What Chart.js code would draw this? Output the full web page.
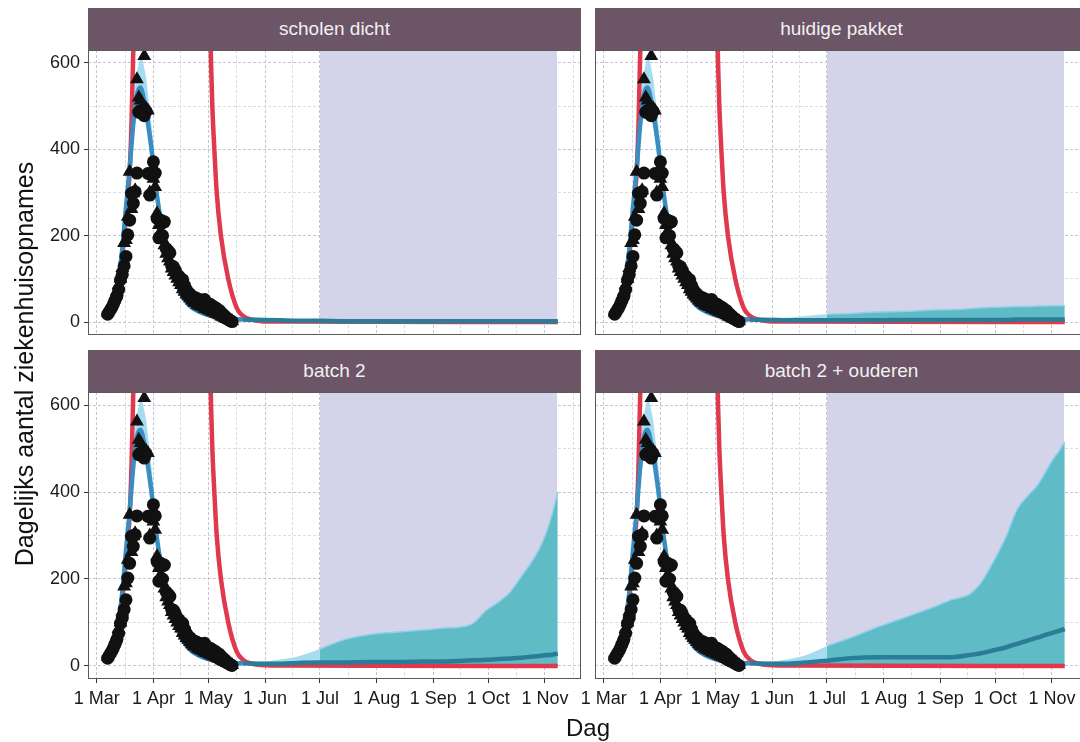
<!DOCTYPE html>
<html><head><meta charset="utf-8">
<script src="https://cdn.jsdelivr.net/npm/chart.js@4"></script>
<style>
html,body{margin:0;padding:0;background:#fff;overflow:hidden;width:1080px;height:742px;}
body{position:relative;font-family:"Liberation Sans",Arial,sans-serif;}
canvas{position:absolute;}
.strip{position:absolute;background:#6c5566;color:#f1f1f1;font-size:19px;text-align:center;white-space:nowrap;}
.ttl{position:absolute;color:#111;text-align:center;white-space:nowrap;}
</style></head><body>
<script>
// ---------- data ----------
const panelNames = ['scholen dicht', 'huidige pakket', 'batch 2', 'batch 2 + ouderen'];
const monthTickDays = [0, 31, 61, 92, 122, 153, 184, 214, 245];
const monthTickLabels = ['1 Mar', '1 Apr', '1 May', '1 Jun', '1 Jul', '1 Aug', '1 Sep', '1 Oct', '1 Nov'];
const minorTickDays = [15.5, 46, 76.5, 107, 137.5, 168.5, 199, 229.5, 260.5];
const yMajorTicks = [0, 200, 400, 600];
const yMinorTicks = [100, 300, 500];

// observed admissions (day 0 = 1 March)
const obsDays = [6,7,8,9,10,11,12,13,14,15,16,17,18,19,20,21,22,23,24,25,26,27,28,29,30,31,32,33,34,35,36,37,38,39,40,41,42,43,44,45,46,47,48,49,50,51,52,53,54,55,56,57,58,59,60,61,62,63,64,65,66,67,68,69,70,71,72,73,74];
const obsCircles = [18,25,32,40,50,60,75,98,110,130,152,202,236,298,275,302,345,486,490,482,478,488,344,294,340,371,345,240,195,236,200,232,170,165,160,130,128,120,110,106,100,98,85,75,68,65,60,57,56,54,52,50,48,52,45,42,41,38,35,33,29,27,22,18,14,10,6,3,1];
const obsTriangles = [22,30,38,48,58,70,85,100,125,183,190,244,348,262,298,305,562,520,513,498,616,495,490,300,350,332,313,252,225,210,192,178,158,148,140,124,116,108,100,92,86,76,70,64,60,55,50,46,44,40,38,36,34,31,30,28,26,24,22,20,18,16,13,11,9,7,5,3,2];

// model fit, common early part
const earlyDays = [5,8,10,12,14,16,18,20,21,22,23,24,25,26,27,28,30,31,32,34,36,38,40,42,44,46,48,50,52,55,60,65,70,75,80,90];
const earlyMean = [15,25,37,100,170,265,355,460,497,525,540,543,532,512,495,462,400,358,322,262,210,170,136,108,86,67,53,42,34,26,17,12,9,7,6,5];
const earlyLow  = [12,20,30,85,150,240,325,420,455,480,492,495,485,468,452,420,362,325,290,235,188,152,120,95,75,58,45,35,28,21,13,9,6,5,4,3];
const earlyHigh = [18,30,45,118,195,295,390,505,545,578,598,612,606,588,566,530,455,405,362,292,235,190,152,122,98,77,62,50,41,32,22,16,13,11,10,10];

// scenario projections, late part
const lateDays = [100,110,122,135,150,165,180,190,200,206,213,220,226,232,237,242,246,249,252];
const meanScholen  = [4,3,3,2,2,2,2,2,2,2,2,2,2,2,2,2,2,2,2];
const lowScholen   = [2,1,1,1,0,0,0,0,0,0,0,0,0,0,0,0,0,0,0];
const highScholen  = [9,7,6,5,5,5,5,5,5,5,5,5,5,5,5,5,5,5,5];
const meanHuidig   = [4,4,4,4,4,5,5,5,5,5,5,5,6,6,6,6,6,6,6];
const lowHuidig    = [2,1,1,1,1,1,1,1,1,1,1,1,1,1,1,1,1,1,1];
const highHuidig   = [10,14,18,20,23,25,28,29,31,33,34,35,36,36,37,37,38,38,38];
const meanBatch2   = [5,7,8,8,9,9,10,10,12,13,14,16,17,19,21,23,25,26,28];
const lowBatch2    = [2,1,1,1,1,1,1,1,1,1,1,1,1,1,1,1,1,1,1];
const highBatch2   = [15,22,39,60,73,78,83,87,90,99,128,148,170,205,235,270,310,350,400];
const meanOuderen  = [5,8,12,18,20,20,20,20,25,29,36,43,51,59,65,72,77,81,85];
const lowOuderen   = [2,1,1,1,1,1,1,1,1,1,1,1,1,1,1,1,1,1,1];
const highOuderen  = [15,24,46,65,90,112,135,152,165,190,240,298,360,392,415,450,478,495,515];

// unmitigated curve (red)
const redDays   = [9,10,12,14,16,17,18,19,20,21,22,25,30,40,50,58,61,62,62.5,63.2,64.3,65.6,67.9,71.9,76.5,80,85,90,100,252];
const redValues = [30,34,90,155,245,290,345,455,630,860,1150,2000,3500,5000,3500,1500,800,700,600,500,400,300,200,100,33,14,5,2,1,0];

// shaded projection period
const shadeDays = [122, 251.6];
const shadeTop  = [630, 630];

const scenarioMean = [meanScholen, meanHuidig, meanBatch2, meanOuderen];
const scenarioLow  = [lowScholen, lowHuidig, lowBatch2, lowOuderen];
const scenarioHigh = [highScholen, highHuidig, highBatch2, highOuderen];

// ---------- layout ----------
const PLOT_W = 493;
const geo = [
  {plotL: 88,  plotT: 50,  plotH: 285, stripT: 8,   leftCol: true,  bottomRow: false},
  {plotL: 595, plotT: 50,  plotH: 285, stripT: 8,   leftCol: false, bottomRow: false},
  {plotL: 88,  plotT: 392, plotH: 287, stripT: 350, leftCol: true,  bottomRow: true},
  {plotL: 595, plotT: 392, plotH: 287, stripT: 350, leftCol: false, bottomRow: true}
];
const Y_AXIS_W = 60, Y_AXIS_W_R = 30, X_AXIS_H = 45;
const FONT = '"Liberation Sans", Arial, sans-serif';
Chart.defaults.font.family = FONT;

const pts = (xs, ys) => xs.map((x, i) => ({x: x, y: ys[i]}));

const borderPlugin = {
  id: 'panelBorder',
  afterDatasetsDraw(chart) {
    const {ctx, chartArea: a} = chart;
    ctx.save();
    ctx.strokeStyle = '#5a5a5a';
    ctx.lineWidth = 1;
    ctx.strokeRect(a.left + 0.5, a.top + 0.5, a.right - a.left - 1, a.bottom - a.top - 1);
    ctx.restore();
  }
};

panelNames.forEach((name, p) => {
  const g = geo[p];
  const strip = document.createElement('div');
  strip.className = 'strip';
  strip.style.left = g.plotL + 'px';
  strip.style.top = g.stripT + 'px';
  strip.style.width = PLOT_W + 'px';
  strip.style.height = (g.plotT - g.stripT) + 'px';
  strip.style.lineHeight = (g.plotT - g.stripT) + 'px';
  strip.textContent = name;
  document.body.appendChild(strip);

  const yw = g.leftCol ? Y_AXIS_W : Y_AXIS_W_R;
  const cv = document.createElement('canvas');
  const cw = PLOT_W + yw;
  const ch = g.plotH + (g.bottomRow ? X_AXIS_H : 0);
  cv.width = cw; cv.height = ch;
  cv.style.width = cw + 'px'; cv.style.height = ch + 'px';
  cv.style.left = (g.plotL - yw) + 'px';
  cv.style.top = g.plotT + 'px';
  document.body.appendChild(cv);

  const days = earlyDays.concat(lateDays);
  const mean = earlyMean.concat(scenarioMean[p]);
  const low = earlyLow.concat(scenarioLow[p]);
  const high = earlyHigh.concat(scenarioHigh[p]);
  const idxE = days.map((d, i) => d <= 122 ? i : -1).filter(i => i >= 0);
  const idxL = days.map((d, i) => d >= 122 ? i : -1).filter(i => i >= 0);
  const sub = (arr, idx) => idx.map(i => arr[i]);

  const base = {pointRadius: 0, clip: 0, cubicInterpolationMode: 'monotone'};
  const datasets = [
    Object.assign({}, base, {data: pts(shadeDays, shadeTop), borderWidth: 0, backgroundColor: '#d3d3e9', fill: 'origin', order: 6}),
    Object.assign({}, base, {data: pts(sub(days, idxE), sub(low, idxE)), borderWidth: 0, fill: false, order: 5}),
    Object.assign({}, base, {data: pts(sub(days, idxE), sub(high, idxE)), borderWidth: 0, backgroundColor: '#a6dcef', fill: {target: 1}, order: 5}),
    Object.assign({}, base, {data: pts(sub(days, idxL), sub(low, idxL)), borderWidth: 0, fill: false, order: 5}),
    Object.assign({}, base, {data: pts(sub(days, idxL), sub(high, idxL)), borderWidth: 1.5, borderColor: '#8fd0ea', backgroundColor: '#5fbcc6', fill: {target: 3}, order: 5}),
    Object.assign({}, base, {data: pts(redDays, redValues), borderWidth: 4.5, borderColor: '#e0384d', fill: false, order: 3}),
    Object.assign({}, base, {data: pts(days, mean), borderWidth: 4.5, borderColor: '#3a8dc1', fill: false, order: 2,
      segment: {borderColor: c => c.p0.parsed.x >= 80 ? '#2a7c97' : '#3a8dc1'}}),
    {data: pts(obsDays, obsCircles), showLine: false, pointStyle: 'circle', pointRadius: 6.5, pointBackgroundColor: '#111', pointBorderColor: '#111', pointBorderWidth: 0, clip: 0, order: 1},
    {data: pts(obsDays, obsTriangles), showLine: false, pointStyle: 'triangle', pointRadius: 8, pointBackgroundColor: '#111', pointBorderColor: '#111', pointBorderWidth: 0, clip: 0, order: 1}
  ];

  new Chart(cv, {
    type: 'line',
    data: {datasets: datasets},
    options: {
      responsive: false,
      animation: false,
      events: [],
      layout: {padding: 0, autoPadding: false},
      plugins: {legend: {display: false}, tooltip: {enabled: false}},
      scales: {
        x: {
          type: 'linear', min: -4.75, max: 264.7,
          afterBuildTicks: s => { s.ticks = monthTickDays.concat(minorTickDays).sort((a, b) => a - b).map(v => ({value: v})); },
          afterFit: s => { s.height = g.bottomRow ? X_AXIS_H : 0; s.paddingLeft = 0; s.paddingRight = 0; s.paddingTop = 0; s.paddingBottom = 0; },
          ticks: {display: g.bottomRow, autoSkip: false, maxRotation: 0, minRotation: 0, padding: 5, color: '#1a1a1a',
            font: {size: 18, family: FONT},
            callback: v => { const k = monthTickDays.indexOf(v); return k >= 0 ? monthTickLabels[k] : ''; }},
          grid: {
            color: c => monthTickDays.indexOf(c.tick.value) >= 0 ? '#c4c4d2' : '#dcdce6',
            lineWidth: 1, drawTicks: g.bottomRow, tickLength: 4,
            tickColor: c => monthTickDays.indexOf(c.tick.value) >= 0 ? '#333' : 'rgba(0,0,0,0)'
          },
          border: {display: false, dash: [3, 2]}
        },
        y: {
          type: 'linear', min: -30, max: 630,
          afterBuildTicks: s => { s.ticks = yMajorTicks.concat(yMinorTicks).sort((a, b) => a - b).map(v => ({value: v})); },
          afterFit: s => { s.width = yw; s.paddingTop = 0; s.paddingBottom = 0; s.paddingLeft = 0; s.paddingRight = 0; },
          ticks: {display: g.leftCol, padding: 4, color: '#1a1a1a', font: {size: 18, family: FONT},
            callback: v => yMajorTicks.indexOf(v) >= 0 ? String(v) : ''},
          grid: {
            color: c => yMajorTicks.indexOf(c.tick.value) >= 0 ? '#c4c4d2' : '#dcdce6',
            lineWidth: 1, drawTicks: g.leftCol, tickLength: 4,
            tickColor: c => yMajorTicks.indexOf(c.tick.value) >= 0 ? '#333' : 'rgba(0,0,0,0)'
          },
          border: {display: false, dash: [3, 2]}
        }
      }
    },
    plugins: [borderPlugin]
  });
});

const yt = document.createElement('div');
yt.className = 'ttl';
yt.textContent = 'Dagelijks aantal ziekenhuisopnames';
Object.assign(yt.style, {left: (24 - 260) + 'px', top: (364 - 15) + 'px', width: '520px', height: '30px', lineHeight: '30px', fontSize: '25px', transform: 'rotate(-90deg)'});
document.body.appendChild(yt);

const xt = document.createElement('div');
xt.className = 'ttl';
xt.textContent = 'Dag';
Object.assign(xt.style, {left: (588 - 100) + 'px', top: '714px', width: '200px', height: '28px', lineHeight: '28px', fontSize: '24px'});
document.body.appendChild(xt);
</script>
</body></html>
